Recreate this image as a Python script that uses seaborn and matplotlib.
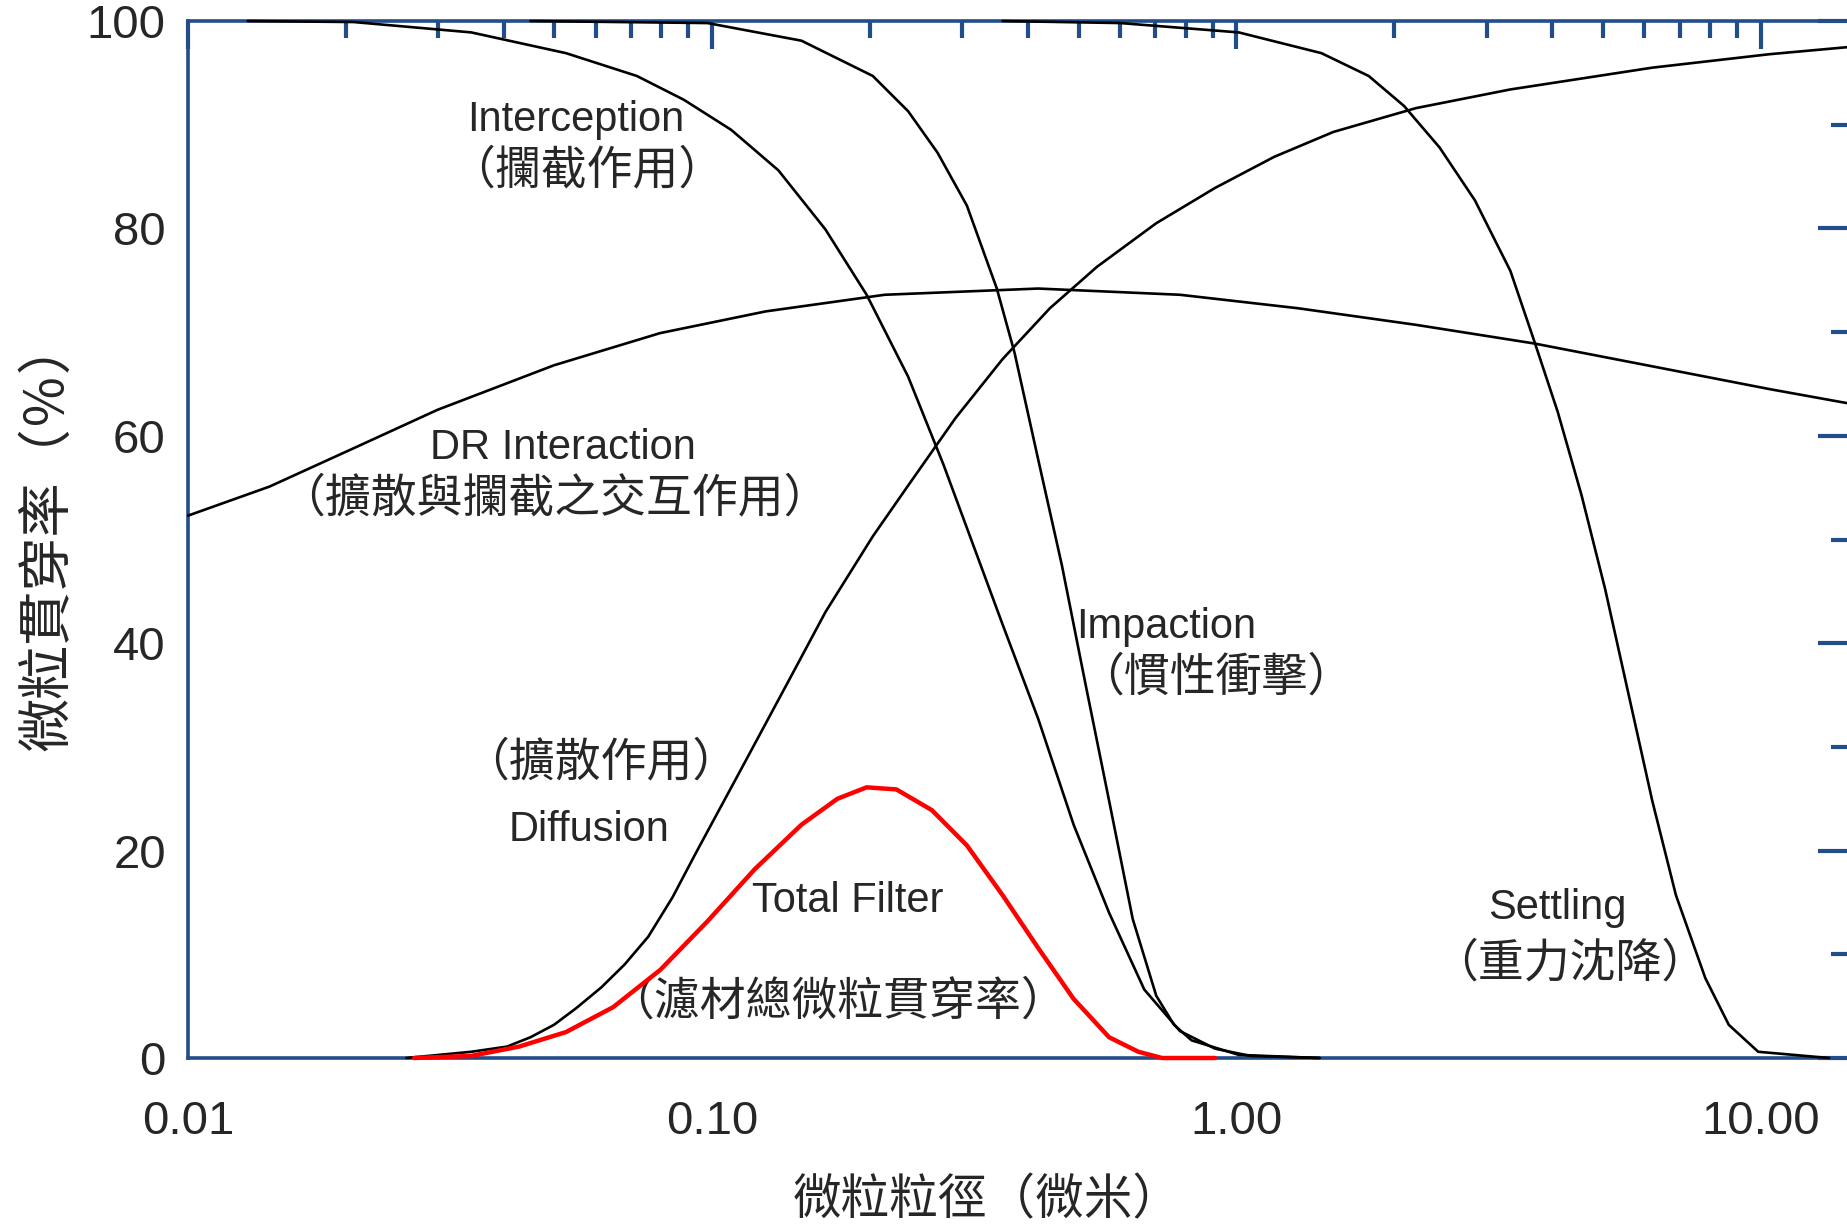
import numpy as np
import pandas as pd
import matplotlib
matplotlib.use("Agg")
import matplotlib.pyplot as plt
import matplotlib.ticker as mticker
import seaborn as sns

# particle size (um) / penetration (%)
interception_x = [0.013, 0.0207, 0.0347, 0.0526, 0.0718, 0.0883, 0.1087, 0.1337, 0.1644, 0.197,
                  0.2364, 0.2762, 0.358, 0.4186, 0.489, 0.5715, 0.667, 0.78, 0.91, 1.064, 1.44]
interception_y = [100, 99.9, 98.9, 96.9, 94.7, 92.4, 89.5, 85.6, 79.9, 73.6,
                  65.7, 57.2, 41.8, 32.7, 22.5, 14.0, 6.6, 2.6, 0.9, 0.2, 0]

impaction_x = [0.045, 0.098, 0.148, 0.2024, 0.2364, 0.269, 0.306, 0.349, 0.3773, 0.4186,
               0.4645, 0.515, 0.5715, 0.634, 0.703, 0.76, 0.821, 1.01, 1.44]
impaction_y = [100, 99.8, 98.1, 94.7, 91.3, 87.3, 82.2, 74.2, 68.0, 57.7,
               47.5, 36.1, 24.8, 13.4, 6.0, 3.2, 1.7, 0.3, 0]

settling_x = [0.358, 0.601, 1.01, 1.452, 1.787, 2.088, 2.44, 2.85, 3.33, 3.70, 4.10,
              4.55, 5.05, 5.60, 6.21, 6.89, 7.84, 8.69, 9.89, 13.5]
settling_y = [100, 99.8, 98.9, 96.9, 94.7, 91.8, 87.8, 82.7, 75.9, 69.1, 62.3,
              54.3, 45.2, 35.0, 24.8, 15.7, 7.7, 3.2, 0.6, 0]

diffusion_x = [0.0261, 0.0347, 0.0406, 0.045, 0.0499, 0.055, 0.0614, 0.068, 0.0755, 0.084,
               0.0929, 0.1145, 0.141, 0.1644, 0.2024, 0.2364, 0.291, 0.358, 0.4406, 0.542,
               0.703, 0.91, 1.18, 1.53, 2.2, 3.33, 6.21, 10.4, 14.8]
diffusion_y = [0, 0.6, 1.1, 2.0, 3.2, 4.8, 6.8, 9.0, 11.7, 15.5,
               19.7, 28.2, 36.7, 43.0, 50.3, 55.2, 61.7, 67.4, 72.3, 76.3,
               80.5, 83.9, 86.9, 89.3, 91.6, 93.4, 95.5, 96.8, 97.5]

dr_x = [0.01, 0.0143, 0.0207, 0.0299, 0.0499, 0.0795, 0.1266, 0.2133, 0.4186, 0.78,
        1.31, 2.2, 3.7, 6.21, 10.4, 14.8]
dr_y = [52.3, 55.1, 58.8, 62.5, 66.8, 69.9, 72.0, 73.6, 74.2, 73.6,
        72.3, 70.7, 68.9, 66.7, 64.5, 63.1]

total_x = [0.027, 0.0347, 0.0428, 0.0526, 0.0647, 0.0796, 0.098, 0.1205, 0.148, 0.1733,
           0.197, 0.2245, 0.2624, 0.306, 0.358, 0.4186, 0.489, 0.5715, 0.65, 0.721, 0.91]
total_y = [0, 0.2, 1.1, 2.5, 4.9, 8.5, 13.2, 18.2, 22.5, 25.0,
           26.1, 25.9, 23.9, 20.5, 15.7, 10.6, 5.7, 2.0, 0.6, 0, 0]

xtick_vals = [0.01, 0.1, 1, 10]
xtick_labels = ["0.01", "0.10", "1.00", "10.00"]
ytick_vals = [0, 20, 40, 60, 80, 100]

sns.set_style("white")
plt.rcParams['font.family'] = ['Liberation Sans', 'Noto Sans CJK TC']
cjk = ['Noto Sans CJK TC', 'DejaVu Sans']
axis_blue = "#214d88"

fig = plt.figure(figsize=(18.47, 12.26), dpi=100)
ax = fig.add_axes([188 / 1847, 168 / 1226, 1662 / 1847, 1037 / 1226])
ax.set_xscale("log")

black_curves = [
    (interception_x, interception_y),
    (impaction_x, impaction_y),
    (settling_x, settling_y),
    (diffusion_x, diffusion_y),
    (dr_x, dr_y),
]
for xs, ys in black_curves:
    sns.lineplot(x=xs, y=ys, ax=ax, color="black", linewidth=1.9, estimator=None,
                 zorder=3, clip_on=False)
sns.lineplot(x=total_x, y=total_y, ax=ax, color="#ff0000", linewidth=3.2, estimator=None,
             zorder=4, clip_on=False)

ax.set_xlim(0.01, 14.8)
ax.set_ylim(0, 100)

ax.xaxis.set_major_locator(mticker.FixedLocator(xtick_vals))
ax.xaxis.set_major_formatter(mticker.FixedFormatter(xtick_labels))
ax.xaxis.set_minor_locator(mticker.LogLocator(base=10, subs=np.arange(2, 10)))
ax.xaxis.set_minor_formatter(mticker.NullFormatter())
ax.yaxis.set_major_locator(mticker.FixedLocator(ytick_vals))
ax.yaxis.set_minor_locator(mticker.MultipleLocator(10))

for s in ax.spines.values():
    s.set_color(axis_blue)
    s.set_linewidth(2.6)

ax.tick_params(axis="both", which="both", direction="in", color=axis_blue,
               top=True, right=True, labelsize=34)
ax.tick_params(axis="x", which="major", length=20, width=3, pad=30)
ax.tick_params(axis="x", which="minor", length=12, width=3)
ax.tick_params(axis="y", which="major", length=23, width=3, pad=16)
ax.tick_params(axis="y", which="minor", length=14, width=3)

ax.set_xlabel("微粒粒徑（微米）", fontsize=35, family=cjk)
ax.set_ylabel("微粒貫穿率（％）", fontsize=39, family=cjk)
ax.xaxis.set_label_coords(0.481, -0.114)
ax.yaxis.set_label_coords(-0.068, 0.505)

en = dict(fontsize=30, ha="center", va="center")
zh = dict(fontsize=33, ha="center", va="center", family=cjk)
ax.text(0.0548, 90.5, "Interception", **en)
ax.text(0.0577, 85.6, "（攔截作用）", **zh)
ax.text(0.052, 58.8, "DR Interaction", **en)
ax.text(0.0499, 54.0, "（擴散與攔截之交互作用）", **zh)
ax.text(0.0614, 28.5, "（擴散作用）", **zh)
ax.text(0.0583, 22.0, "Diffusion", **en)
ax.text(0.181, 15.1, "Total Filter", **en)
ax.text(0.173, 5.45, "（濾材總微粒貫穿率）", **zh)
ax.text(0.733, 41.6, "Impaction", **en)
ax.text(0.911, 36.7, "（慣性衝擊）", **zh)
ax.text(4.10, 14.5, "Settling", **en)
ax.text(4.32, 9.1, "（重力沈降）", **zh)

fig.savefig("out.png", dpi=100)
plt.close(fig)
